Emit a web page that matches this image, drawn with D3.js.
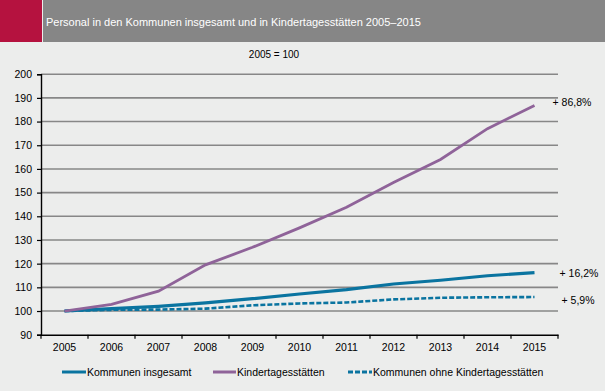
<!DOCTYPE html>
<html>
<head>
<meta charset="utf-8">
<script src="https://cdn.jsdelivr.net/npm/d3@7"></script>
<style>
  body { margin: 0; background: #ecedec; }
  text { font-family: "Liberation Sans", Arial, sans-serif; }
</style>
</head>
<body>
<div id="container"></div>
<script>
let w = 605;
let h = 391;

// data
let years = ['2005', '2006', '2007', '2008', '2009', '2010', '2011', '2012', '2013', '2014', '2015'];
let kommunen = [100, 101, 102, 103.4, 105.2, 107.2, 109, 111.4, 113, 114.9, 116.2];
let kita = [100, 102.8, 108.4, 119.5, 126.9, 135.1, 143.8, 154.3, 164, 177, 186.8];
let ohneKita = [100, 100.5, 100.6, 101, 102.4, 103.2, 103.6, 104.9, 105.6, 105.8, 105.9];
let yTicks = [90, 100, 110, 120, 130, 140, 150, 160, 170, 180, 190, 200];
let endLabels = ['+ 86,8%', '+ 16,2%', '+ 5,9%'];
let legendNames = ['Kommunen insgesamt', 'Kindertagesstätten', 'Kommunen ohne Kindertagesstätten'];

let blue = '#0a74a0';
let purple = '#8f6399';

let viz = d3.select('#container').append('svg')
    .attr('width', w)
    .attr('height', h)
;

viz.append('rect').attr('width', w).attr('height', h).attr('fill', '#ecedec');

// header
viz.append('rect').attr('x', 0).attr('y', 0).attr('width', 42).attr('height', 42).attr('fill', '#b5123f');
viz.append('rect').attr('x', 43).attr('y', 0).attr('width', w - 43).attr('height', 42).attr('fill', '#868686');

viz.append('text')
    .text('Personal in den Kommunen insgesamt und in Kindertagesstätten 2005–2015')
    .attr('x', 46)
    .attr('y', 26)
    .attr('fill', 'white')
    .attr('font-size', '11px')

viz.append('text')
    .text('2005 = 100')
    .attr('x', 274)
    .attr('y', 58)
    .attr('text-anchor', 'middle')
    .attr('fill', 'black')
    .attr('font-size', '10px')

let x = d3.scaleBand().domain(years).range([41, 558]);
let y = d3.scaleLinear().domain([90, 200]).range([334.7, 74.2]);

// gridlines
viz.append('g')
    .selectAll('line')
    .data(yTicks.filter(d => d > 90))
    .enter()
    .append('line')
    .attr('x1', 41)
    .attr('x2', 558)
    .attr('y1', d => y(d))
    .attr('y2', d => y(d))
    .attr('stroke', '#878787')
    .attr('stroke-width', 1.6)

// axes
let yAxis = viz.append('g')
    .attr('transform', 'translate(41,0)')
    .call(d3.axisLeft(y).tickValues(yTicks).tickSize(4).tickPadding(5));
let xAxis = viz.append('g')
    .attr('transform', 'translate(0,' + y(90) + ')')
    .call(d3.axisBottom(x).tickSize(0).tickPadding(9));

// x ticks at band edges
viz.append('g')
    .selectAll('line')
    .data(years.concat(['end']))
    .enter()
    .append('line')
    .attr('x1', (d, i) => 41 + i * x.step())
    .attr('x2', (d, i) => 41 + i * x.step())
    .attr('y1', y(90))
    .attr('y2', y(90) + 4)
    .attr('stroke', 'black')
    .attr('stroke-width', 1.2)

viz.selectAll('.domain').attr('stroke', 'black').attr('stroke-width', 1.4);
viz.selectAll('.tick line').attr('stroke', 'black').attr('stroke-width', 1.2);
viz.selectAll('.tick text').attr('font-size', '10.5px').attr('fill', 'black')
    .attr('font-family', '"Liberation Sans", Arial, sans-serif');

let line = d3.line()
    .x((d, i) => x(years[i]) + x.bandwidth() / 2)
    .y(d => y(d));

viz.append('path')
    .attr('d', line(kommunen))
    .attr('fill', 'none')
    .attr('stroke', blue)
    .attr('stroke-width', 3.2)

viz.append('path')
    .attr('d', line(ohneKita))
    .attr('fill', 'none')
    .attr('stroke', blue)
    .attr('stroke-width', 2.6)
    .attr('stroke-dasharray', '5,2')

viz.append('path')
    .attr('d', line(kita))
    .attr('fill', 'none')
    .attr('stroke', purple)
    .attr('stroke-width', 2.8)

// end labels
let last = years.length - 1;
let endVals = [kita[last], kommunen[last], ohneKita[last]];
let endDx = [18, 25, 27];
let endDy = [1, 4, 7];
viz.append('g')
    .selectAll('text')
    .data(endLabels)
    .enter()
    .append('text')
    .text(d => d)
    .attr('x', (d, i) => x(years[last]) + x.bandwidth() / 2 + endDx[i])
    .attr('y', (d, i) => y(endVals[i]) + endDy[i])
    .attr('font-size', '10.5px')
    .attr('fill', 'black')

// legend
let legX = [62, 213, 348];
let legLen = [24, 23, 24];
let legColors = [blue, purple, blue];
let legDash = [null, null, '5,2'];
let leg = viz.append('g');
legendNames.forEach(function(name, i) {
    leg.append('line')
        .attr('x1', legX[i])
        .attr('x2', legX[i] + legLen[i])
        .attr('y1', 372)
        .attr('y2', 372)
        .attr('stroke', legColors[i])
        .attr('stroke-width', 3)
        .attr('stroke-dasharray', legDash[i])
    leg.append('text')
        .text(name)
        .attr('x', legX[i] + legLen[i] + 1)
        .attr('y', 376)
        .attr('font-size', '10.5px')
        .attr('fill', 'black')
});
</script>
</body>
</html>
